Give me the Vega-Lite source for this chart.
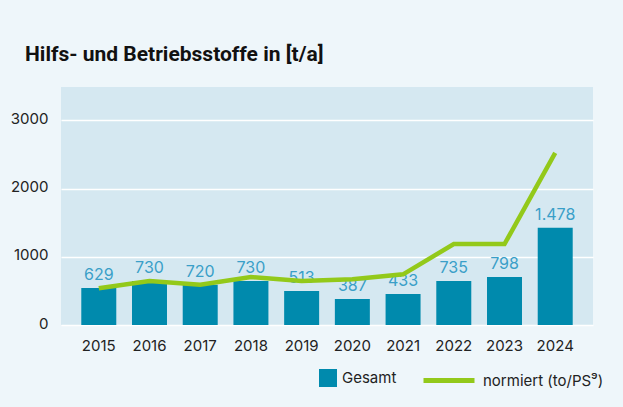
{
  "$schema": "https://vega.github.io/schema/vega-lite/v6.json",
  "width": 532,
  "height": 238,
  "autosize": "none",
  "padding": {"left": 61, "top": 87, "right": 30, "bottom": 82},
  "background": "#eef6fa",
  "title": {
    "text": "Hilfs- und Betriebsstoffe  in [t/a]",
    "anchor": "start",
    "frame": "group",
    "dx": -36,
    "offset": 5,
    "baseline": "alphabetic",
    "font": "Roboto",
    "fontSize": 21,
    "fontWeight": "bold",
    "color": "#111111"
  },
  "config": {
    "view": {"fill": "#d5e8f1", "stroke": null},
    "font": "Inter",
    "axis": {"labelFont": "Inter", "labelColor": "#222222", "labelFontSize": 15, "domain": false, "ticks": false, "title": null},
    "legend": {"labelFont": "Inter", "labelFontSize": 15, "labelColor": "#222222"}
  },
  "data": {
    "values": [
      {"year": "2015", "gesamt": 542, "label": "629", "normiert": 538},
      {"year": "2016", "gesamt": 645, "label": "730", "normiert": 645},
      {"year": "2017", "gesamt": 591, "label": "720", "normiert": 591},
      {"year": "2018", "gesamt": 645, "label": "730", "normiert": 703},
      {"year": "2019", "gesamt": 498, "label": "513", "normiert": 645},
      {"year": "2020", "gesamt": 381, "label": "387", "normiert": 670},
      {"year": "2021", "gesamt": 454, "label": "433", "normiert": 743},
      {"year": "2022", "gesamt": 645, "label": "735", "normiert": 1187},
      {"year": "2023", "gesamt": 703, "label": "798", "normiert": 1187},
      {"year": "2024", "gesamt": 1426, "label": "1.478", "normiert": 2525}
    ]
  },
  "encoding": {
    "x": {
      "field": "year", "type": "ordinal",
      "scale": {"paddingInner": 0.31, "paddingOuter": 0.4},
      "axis": {"labelAngle": 0, "labelPadding": 13, "labelBaseline": "top", "grid": false}
    }
  },
  "layer": [
    {
      "mark": {"type": "bar", "color": "#008aad"},
      "encoding": {
        "y": {
          "field": "gesamt", "type": "quantitative",
          "scale": {"domain": [0, 3490], "nice": false},
          "axis": {"values": [0, 1000, 2000, 3000], "grid": true, "gridColor": "#ffffff", "gridWidth": 1.5, "gridOpacity": 1, "labelPadding": 13, "labelOffset": -2, "format": "d"}
        },
        "fill": {
          "datum": "Gesamt",
          "scale": {"domain": ["Gesamt"], "range": ["#008aad"]},
          "legend": {"orient": "none", "legendX": 258, "legendY": 282, "title": null, "symbolType": "square", "symbolSize": 324, "symbolStrokeWidth": 0, "labelOffset": 5}
        }
      }
    },
    {
      "mark": {"type": "text", "baseline": "alphabetic", "dy": -8, "fontSize": 16, "color": "#3a9fc8", "font": "Inter"},
      "encoding": {
        "y": {"field": "gesamt", "type": "quantitative"},
        "text": {"field": "label"}
      }
    },
    {
      "mark": {"type": "line", "strokeWidth": 4.5, "strokeCap": "butt"},
      "encoding": {
        "y": {"field": "normiert", "type": "quantitative"},
        "stroke": {
          "datum": "normiert (to/PS⁹)",
          "scale": {"domain": ["normiert (to/PS⁹)"], "range": ["#93c91a"]},
          "legend": {"orient": "none", "legendX": 360, "legendY": 265.5, "title": null, "symbolType": "stroke", "symbolSize": 2600, "symbolStrokeWidth": 5, "labelOffset": 6}
        }
      }
    }
  ]
}
